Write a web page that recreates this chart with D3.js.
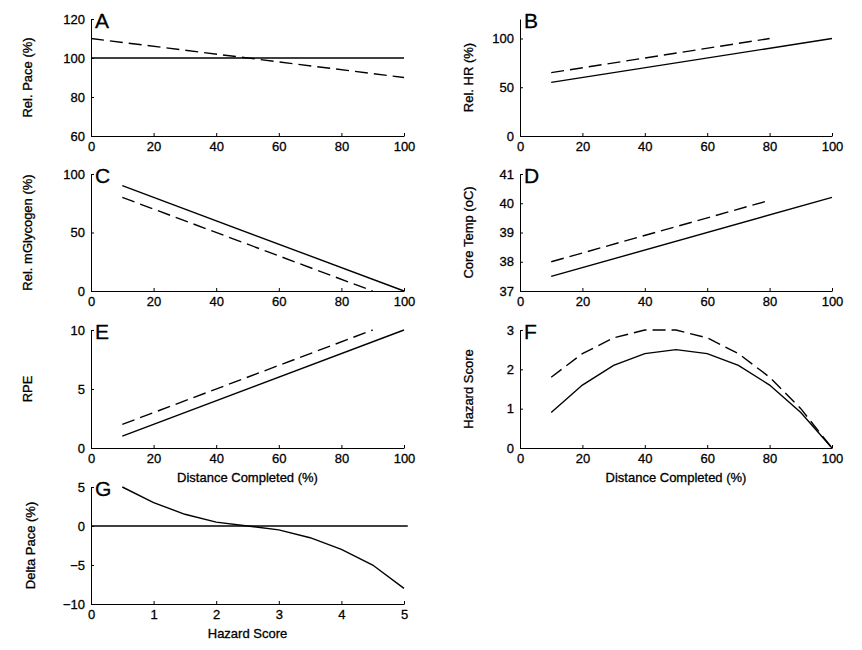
<!DOCTYPE html>
<html>
<head>
<meta charset="utf-8">
<script src="https://cdn.jsdelivr.net/npm/d3@7"></script>
<style>
  body { margin: 0; background: #fff; }
  text { font-family: "Liberation Sans", Arial, sans-serif; fill: #000; stroke: #000; stroke-width: 0.3px; }
</style>
</head>
<body>
<svg id="fig" width="862" height="650"></svg>
<script>
// distance completed (%)
const distA = [0, 100];
const paceEven = [100, 100];
const paceFast = [110, 90];

const distHR = [10, 100];
const hrSolid = [55, 100];
const distHRd = [10, 80];
const hrDash = [65, 100];

const distGly = [10, 100];
const glySolid = [90, 0];
const distGlyD = [10, 90];
const glyDash = [80, 0];

const distTemp = [10, 100];
const tempSolid = [37.5, 40.2];
const distTempD = [10, 80];
const tempDash = [38, 40.1];

const distRPE = [10, 100];
const rpeSolid = [1, 10];
const distRPEd = [10, 90];
const rpeDash = [2, 10];

const distHaz = [10, 20, 30, 40, 50, 60, 70, 80, 90, 100];
const hazSolid = [0.9, 1.6, 2.1, 2.4, 2.5, 2.4, 2.1, 1.6, 0.9, 0];
const hazDash = [1.8, 2.4, 2.8, 3.0, 3.0, 2.8, 2.4, 1.8, 1.0, 0];

const hazScore = [0.5, 1, 1.5, 2, 2.5, 3, 3.5, 4, 4.5, 5];
const deltaPace = [5, 3, 1.5, 0.5, 0, -0.5, -1.5, -3, -5, -8];
const zeroX = [0, 5.06];
const zeroY = [0, 0];

const distTicks = [0, 20, 40, 60, 80, 100];

const svg = d3.select("svg#fig");

const cols = [{ x0: 91, x1: 404, lab: 27 }, { x0: 520, x1: 832, lab: 468 }];
const rows = [{ y0: 19, y1: 136 }, { y0: 174, y1: 291 }, { y0: 330, y1: 448 }, { y0: 487, y1: 604 }];

const zip = (xs, ys) => xs.map((x, i) => [x, ys[i]]);

const panels = [
  { letter: "A", c: 0, r: 0, xd: [0, 100], xt: distTicks, yd: [60, 120], yt: [60, 80, 100, 120], ylab: "Rel. Pace (%)",
    lines: [{ d: zip(distA, paceEven) }, { d: zip(distA, paceFast), dash: true }] },
  { letter: "B", c: 1, r: 0, xd: [0, 100], xt: distTicks, yd: [0, 120], yt: [0, 50, 100], ylab: "Rel. HR (%)",
    lines: [{ d: zip(distHR, hrSolid) }, { d: zip(distHRd, hrDash), dash: true }] },
  { letter: "C", c: 0, r: 1, xd: [0, 100], xt: distTicks, yd: [0, 100], yt: [0, 50, 100], ylab: "Rel. mGlycogen (%)",
    lines: [{ d: zip(distGly, glySolid) }, { d: zip(distGlyD, glyDash), dash: true }] },
  { letter: "D", c: 1, r: 1, xd: [0, 100], xt: distTicks, yd: [37, 41], yt: [37, 38, 39, 40, 41], ylab: "Core Temp (oC)",
    lines: [{ d: zip(distTemp, tempSolid) }, { d: zip(distTempD, tempDash), dash: true }] },
  { letter: "E", c: 0, r: 2, xd: [0, 100], xt: distTicks, yd: [0, 10], yt: [0, 5, 10], ylab: "RPE", xlab: "Distance Completed (%)",
    lines: [{ d: zip(distRPE, rpeSolid) }, { d: zip(distRPEd, rpeDash), dash: true }] },
  { letter: "F", c: 1, r: 2, xd: [0, 100], xt: distTicks, yd: [0, 3], yt: [0, 1, 2, 3], ylab: "Hazard Score", xlab: "Distance Completed (%)",
    lines: [{ d: zip(distHaz, hazSolid) }, { d: zip(distHaz, hazDash), dash: true }] },
  { letter: "G", c: 0, r: 3, xd: [0, 5], xt: [0, 1, 2, 3, 4, 5], yd: [-10, 5], yt: [-10, -5, 0, 5], ylab: "Delta Pace (%)", xlab: "Hazard Score", labx: 30,
    lines: [{ d: zip(hazScore, deltaPace) }, { d: zip(zeroX, zeroY) }] }
];

panels.forEach(p => {
  const col = cols[p.c], row = rows[p.r];
  const x = d3.scaleLinear().domain(p.xd).range([col.x0, col.x1]);
  const y = d3.scaleLinear().domain(p.yd).range([row.y1, row.y0]);
  const g = svg.append("g");

  // axes with inward ticks
  const xa = g.append("g")
    .attr("transform", `translate(0, ${row.y1})`)
    .call(d3.axisBottom(x).tickValues(p.xt).tickFormat(d3.format("d")).tickSizeInner(-3).tickSizeOuter(0).tickPadding(6));
  const ya = g.append("g")
    .attr("transform", `translate(${col.x0}, 0)`)
    .call(d3.axisLeft(y).tickValues(p.yt).tickFormat(d => d < 0 ? "\u2212" + Math.abs(d) : d).tickSizeInner(-3).tickSizeOuter(0).tickPadding(6));
  [xa, ya].forEach(a => {
    a.selectAll("text").style("font-size", "13px").attr("fill", "#000");
    a.selectAll("line, path").attr("stroke", "#000").attr("stroke-width", 1);
  });

  const line = d3.line().x(d => x(d[0])).y(d => y(d[1]));
  p.lines.forEach(l => {
    g.append("path")
      .attr("d", line(l.d))
      .attr("fill", "none")
      .attr("stroke", "#000")
      .attr("stroke-width", 1.4)
      .attr("stroke-dasharray", l.dash ? "13,6" : null);
  });

  // panel letter
  g.append("text")
    .attr("x", col.x0 + 4)
    .attr("y", row.y0 + 9)
    .style("font-size", "21px")
    .text(p.letter);

  // y label
  const lx = p.labx || col.lab;
  g.append("text")
    .attr("transform", `translate(${lx}, ${(row.y0 + row.y1) / 2}) rotate(-90)`)
    .attr("text-anchor", "middle")
    .attr("dy", "0.35em")
    .style("font-size", "13px")
    .text(p.ylab);

  if (p.xlab) {
    g.append("text")
      .attr("x", (col.x0 + col.x1) / 2)
      .attr("y", row.y1 + 34)
      .attr("text-anchor", "middle")
      .style("font-size", "13px")
      .text(p.xlab);
  }
});
</script>
</body>
</html>
